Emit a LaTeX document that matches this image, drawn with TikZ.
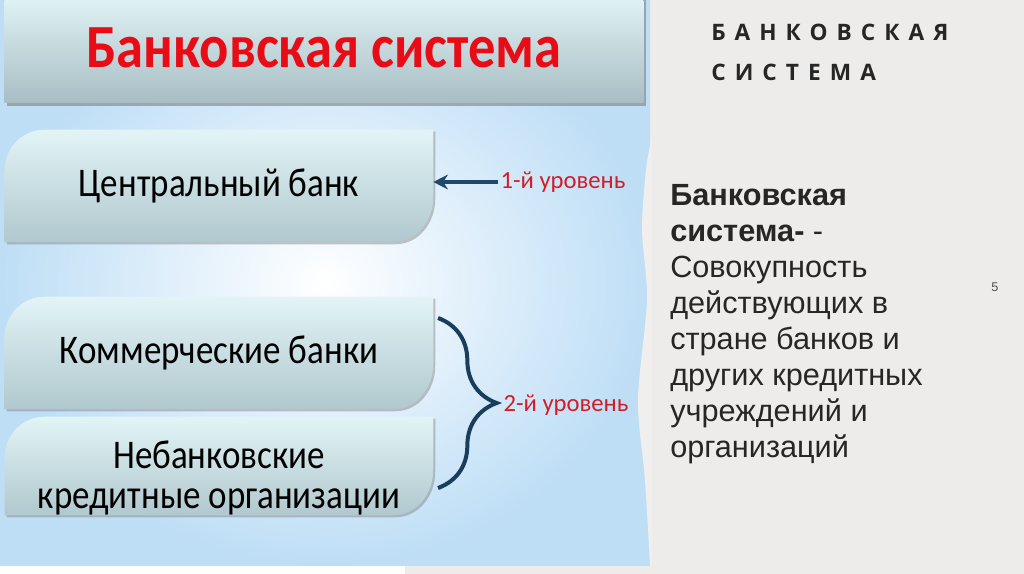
\documentclass[tikz,border=0pt]{standalone}
\usepackage{fontspec}
\setmainfont{Carlito}
\newfontfamily\condfont[FakeStretch=0.86]{Carlito}
\newfontfamily\widecondfont[FakeStretch=0.89]{Carlito}
\newfontfamily\bodyfont{Liberation Sans}
\newfontfamily\headfont[LetterSpace=40]{Open Sans}
\usetikzlibrary{arrows.meta,decorations.pathreplacing,shadows,backgrounds}

\definecolor{bgblue}{RGB}{190,222,246}
\definecolor{bggray}{RGB}{237,236,234}
\definecolor{boxtop}{RGB}{226,244,246}
\definecolor{boxbot}{RGB}{176,200,206}
\definecolor{titlered}{RGB}{232,12,22}
\definecolor{lvlred}{RGB}{208,30,40}
\definecolor{navy}{RGB}{30,72,108}
\definecolor{txt}{RGB}{38,38,38}

\tikzset{
  lvlbox/.style={minimum width=321pt, minimum height=84pt, inner sep=0, align=center,
    font=\condfont\fontsize{30.5}{30}\selectfont},
  boxfill/.style={top color=boxtop, bottom color=boxbot,
    drop shadow={opacity=0.45, shadow xshift=1.5pt, shadow yshift=-1.5pt}},
  lvllabel/.style={text=lvlred, font=\fontsize{18.5}{20}\selectfont, inner sep=2pt},
}

\begin{document}
\begin{tikzpicture}[x=0.75pt,y=0.75pt]
  \useasboundingbox (0,0) rectangle (1024,-574);

  % left panel: title and levels
  \node[minimum width=478.5pt, minimum height=82pt, inner sep=0,
    text=titlered, font=\widecondfont\fontsize{46}{48}\selectfont\bfseries] (title) at (324,-48) {Банковская система};
  \node[lvlbox] (cb) at (219,-186) {Центральный банк};
  \node[lvlbox] (kb) at (219,-353) {Коммерческие банки};
  \node[lvlbox, minimum height=73.5pt] (nk) at (219,-466)
    {\raisebox{-10.5pt}[\height][\depth]{\begin{tabular}{@{}c@{}}Небанковские\\кредитные организации\end{tabular}}};

  \node[lvllabel] (lvl1) at (563,-182) {1-й уровень};
  \node[lvllabel] (lvl2) at (566,-405) {2-й уровень};
  \coordinate (bt) at (438,-318);
  \coordinate (bb) at (438,-488);

  \draw[navy, line width=3pt, -{Stealth[length=11pt,width=11pt]}] (lvl1.west) -- (lvl1.west -| cb.east);
  \draw[navy!85!black, line width=3pt, decorate, decoration={brace, amplitude=44pt}] (bt) -- (bb);

  % right panel
  \node[anchor=north west, align=left, inner sep=0, text=txt,
    font=\headfont\bfseries\fontsize{17}{30}\selectfont] (head) at (711,-24) {БАНКОВСКАЯ\\СИСТЕМА};
  \node[anchor=north west, align=left, inner sep=0, text=txt,
    font=\bodyfont\fontsize{23}{27}\selectfont] (defn) at (670,-184)
    {\textbf{Банковская}\\\textbf{система-} -\\Совокупность\\действующих в\\стране банков и\\других кредитных\\учреждений и\\организаций};
  \node[text=txt!80, font=\bodyfont\fontsize{9.5}{11}\selectfont] (pg) at (995,-287) {5};

  \begin{scope}[on background layer]
    \fill[bggray] (0,0) rectangle (1024,-574);
    \fill[white] (0,-565) rectangle (405,-574);
    \shade[inner color=white, outer color=bgblue] (0,0) rectangle (650,-565);
    \fill[bggray!85!white] plot[smooth] coordinates {(652,-135)(646,-170)(642,-230)(647,-300)(638,-400)(645,-480)(650,-565)} -- (652,-565) -- cycle;
    \path[top color=boxtop, bottom color=boxbot!95!black,
      drop shadow={opacity=0.6, shadow xshift=2pt, shadow yshift=-2pt}]
      (title.south west) rectangle (title.north east);
    \foreach \n in {cb,kb,nk}
      \path[boxfill] (\n.south west) -- ([yshift=-30pt]\n.north west) to[out=90,in=180] ([xshift=30pt]\n.north west)
        -- (\n.north east) -- ([yshift=34pt]\n.south east) to[out=-90,in=0] ([xshift=-30pt]\n.south east) -- cycle;
  \end{scope}
\end{tikzpicture}
\end{document}
